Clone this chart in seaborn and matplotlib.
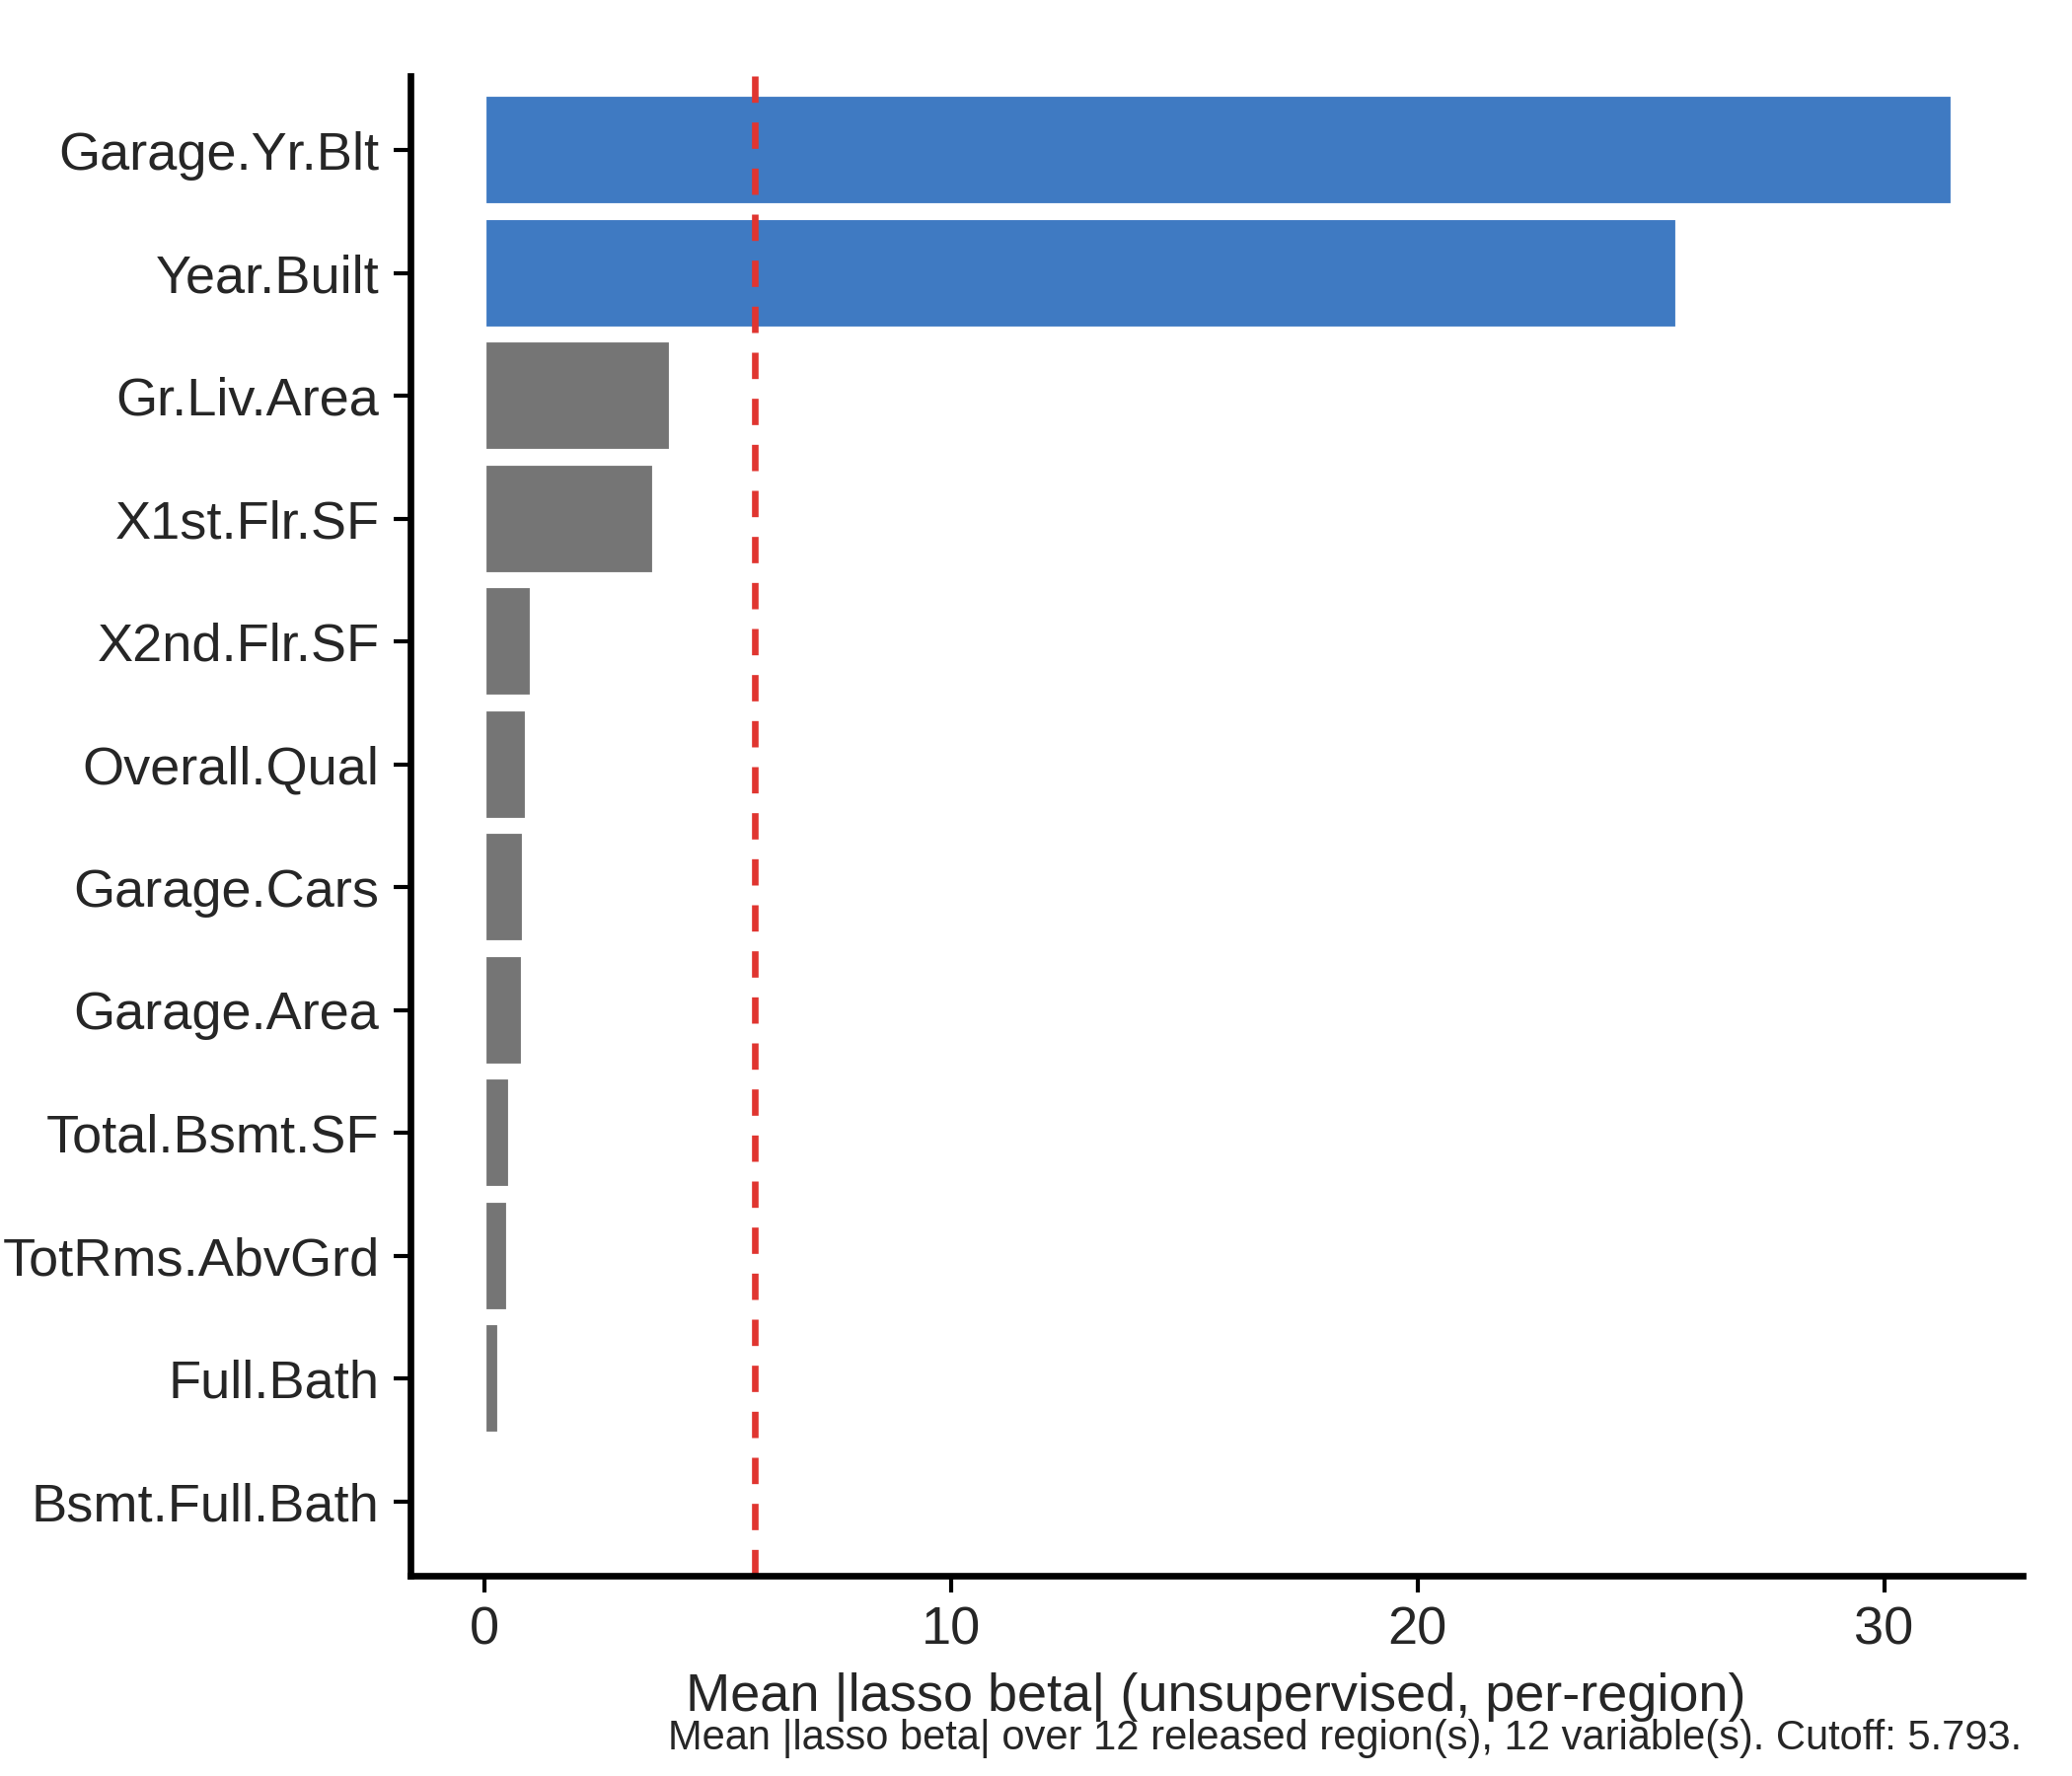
import pandas as pd
import matplotlib
matplotlib.use("Agg")
import matplotlib.pyplot as plt
import seaborn as sns

variables = ["Garage.Yr.Blt", "Year.Built", "Gr.Liv.Area", "X1st.Flr.SF", "X2nd.Flr.SF",
             "Overall.Qual", "Garage.Cars", "Garage.Area", "Total.Bsmt.SF",
             "TotRms.AbvGrd", "Full.Bath", "Bsmt.Full.Bath"]
mean_beta = [31.47, 25.57, 4.0, 3.65, 1.03, 0.92, 0.86, 0.83, 0.57, 0.52, 0.32, 0.05]
cutoff = 5.793

df = pd.DataFrame({"variable": variables, "beta": mean_beta})
df["selected"] = df["beta"] > cutoff

sns.set_style("white")
plt.rcParams["font.family"] = ["Liberation Sans", "DejaVu Sans"]

fig = plt.figure(figsize=(7, 6), dpi=300)
ax = fig.add_axes([0.198, 0.113, 0.778, 0.844])
palette = {True: "#3F7AC2", False: "#757575"}
sns.barplot(data=df, x="beta", y="variable", hue="selected", palette=palette,
            dodge=False, legend=False, width=0.9, ax=ax, saturation=1)
ax.axvline(cutoff, color="#E03530", linestyle=(0, (4, 3)), linewidth=1.6)

ax.set_xlim(-1.58, 32.96)
ax.set_ylim(11.6, -0.6)
ax.set_xticks([0, 10, 20, 30])
ax.set_xlabel("Mean |lasso beta| (unsupervised, per-region)", fontsize=13)
ax.set_ylabel("")
ax.tick_params(axis="both", labelsize=13, length=4, width=1, color="black", direction="out",
               bottom=True, left=True)
for side in ["top", "right"]:
    ax.spines[side].set_visible(False)
for side in ["left", "bottom"]:
    ax.spines[side].set_color("black")
    ax.spines[side].set_linewidth(1.6)

fig.text(0.976, 0.01, "Mean |lasso beta| over 12 released region(s), 12 variable(s). Cutoff: 5.793.",
         ha="right", va="bottom", fontsize=10)
fig.savefig("out.png", dpi=300)
